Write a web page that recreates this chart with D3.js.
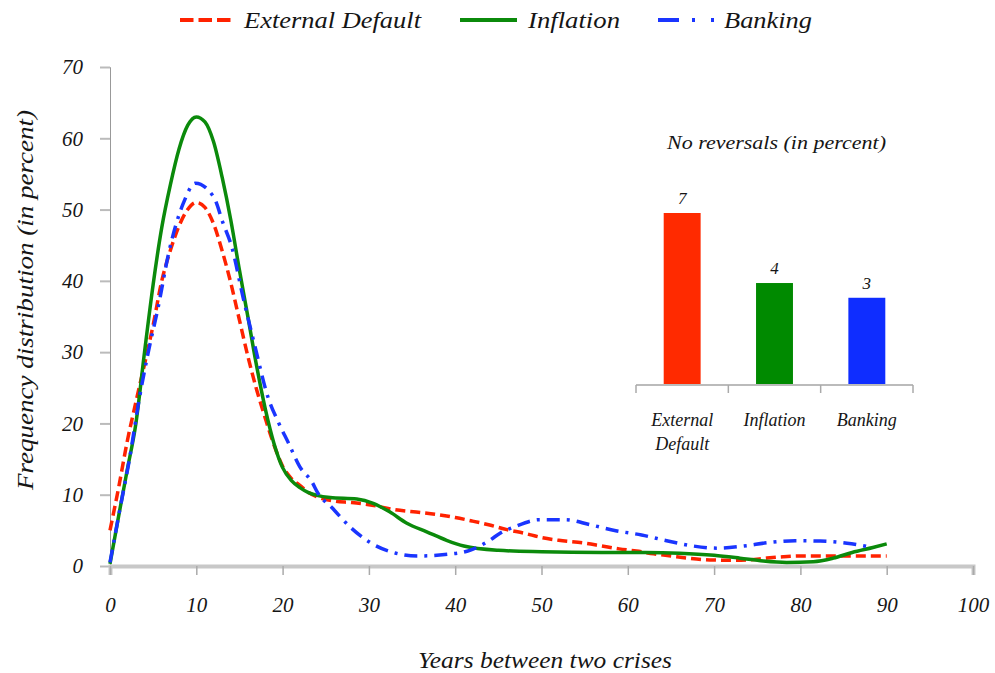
<!DOCTYPE html>
<html>
<head>
<meta charset="utf-8">
<script src="https://cdn.jsdelivr.net/npm/d3@7/dist/d3.min.js"></script>
<style>
  html, body { margin: 0; padding: 0; background: #fff; }
  svg { display: block; }
</style>
</head>
<body>
<svg id="chart" width="995" height="673"></svg>
<script>
// ---------- data ----------
const xTicks = [0, 10, 20, 30, 40, 50, 60, 70, 80, 90, 100];
const yTicks = [0, 10, 20, 30, 40, 50, 60, 70];

const seriesNames = ["External Default", "Inflation", "Banking"];

// External Default: [years, percent]
const externalDefault = [
  [0,5],[1,11],[2,17.5],[3,23],[4,28.3],[5,33.8],[6,40],[7,44.3],[8,47.7],[9,50],[10,51],
  [11,50.3],[12,48],[13,44.2],[14,39.7],[15,34.5],[16,29.3],[17,24.7],[18,20.7],[19,17],
  [20,14],[21,12.3],[22,11.3],[23,10.3],[24,9.7],[26,9.1],[28,8.9],[30,8.6],[33,7.9],
  [36,7.5],[38,7.2],[40,6.8],[42,6.3],[44,5.75],[46,5.1],[48,4.6],[50,4.0],[52,3.6],
  [55,3.2],[57,2.8],[59,2.4],[61,2.1],[63,1.7],[65,1.4],[67,1.1],[69.5,0.85],[72,0.8],
  [74,0.85],[76,1.1],[78,1.3],[80,1.4],[85,1.4],[90,1.4]
];

// Inflation
const inflation = [
  [0,0.3],[1,7],[2,13.5],[3,20],[4,30],[5,39.5],[6,47.5],[7,53.5],[8,58.5],[9,61.8],[10,63],
  [11,62.3],[12,59.5],[13,54.5],[14,48.5],[15,41.5],[16,34.8],[17,28],[18,22],[19,17.2],
  [20,13.8],[21,12],[22,11],[23,10.3],[24,9.9],[25.5,9.6],[28.6,9.4],[30.5,8.8],[32.4,7.6],
  [34.4,6],[36.7,4.8],[39,3.6],[41,2.8],[45,2.2],[50,2.0],[57,1.9],[62,1.9],[66,1.8],
  [70,1.5],[73,1.1],[75.7,0.7],[78.4,0.5],[81.5,0.6],[83.8,1.1],[86,1.9],[88.4,2.6],[90,3.1]
];

// Banking
const banking = [
  [0,0.5],[1.2,8.3],[2.3,15.3],[3.3,22.8],[4.4,29.8],[5.6,36.4],[6.8,43.9],[8.5,50.9],
  [9.9,53.7],[12,51.8],[13.1,48.1],[14.1,44.8],[15.4,37.8],[16.8,30.8],[18.3,23.7],
  [19.5,20.2],[20.7,17.2],[22,13.9],[23.4,11.8],[24.1,10.2],[25.7,8.2],[27.8,5.5],[30,3.4],
  [32.8,1.9],[35.7,1.4],[38.8,1.6],[41.7,2.2],[44,3.6],[45.2,4.6],[46.9,5.5],[49.8,6.5],
  [52.8,6.5],[55.6,5.8],[58.6,4.95],[61.6,4.35],[64.5,3.55],[67.6,2.8],[70.4,2.5],
  [73.4,2.8],[76.4,3.3],[79.4,3.55],[82.3,3.5],[85.4,3.2],[88.3,2.6]
];

// Inset: No reversals (in percent)
const insetCategories = [["External", "Default"], ["Inflation"], ["Banking"]];
const insetValues = [7, 4.15, 3.55];
const insetLabels = ["7", "4", "3"];

// ---------- styles ----------
const FONT = "Liberation Serif";
const colors = ["#ff2200", "#0b8a0b", "#1a35ff"];
const barColors = ["#ff2a00", "#008a00", "#0f2dff"];
const dashes = ["10,5", null, "13,7,3,7"];

const svg = d3.select("#chart");

function styleText(sel, size, len) {
  sel.style("font-family", FONT).style("font-style", "italic")
     .style("font-size", size + "px").style("fill", "#151515");
  if (len) sel.attr("textLength", len).attr("lengthAdjust", "spacingAndGlyphs");
  return sel;
}

// ---------- main scales ----------
const x = d3.scaleLinear().domain([0, 100]).range([110, 973]);
const y = d3.scaleLinear().domain([0, 70]).range([566, 67]);

// y axis
const yAxis = svg.append("g").attr("transform", `translate(${x(0)},0)`)
  .call(d3.axisLeft(y).tickValues(yTicks).tickSize(10).tickPadding(17).tickFormat(d3.format("d")));
yAxis.select(".domain").attr("stroke", "#999").attr("stroke-width", 1);
yAxis.selectAll(".tick line").attr("stroke", "#bbb").attr("stroke-width", 2);
styleText(yAxis.selectAll(".tick text"), 21);

// x axis
const xAxis = svg.append("g").attr("transform", `translate(0,${y(0)})`)
  .call(d3.axisBottom(x).tickValues(xTicks).tickSize(9).tickPadding(22).tickFormat(d3.format("d")));
xAxis.select(".domain").attr("stroke", "#c8c8c8").attr("stroke-width", 4);
xAxis.selectAll(".tick line").attr("stroke", "#aaa").attr("stroke-width", 1.5);
styleText(xAxis.selectAll(".tick text"), 21);

// axis titles
styleText(svg.append("text").attr("x", 418).attr("y", 668)
  .text("Years between two crises"), 24, 254);
styleText(svg.append("text").attr("transform", `translate(33,490) rotate(-90)`)
  .text("Frequency distribution (in percent)"), 23, 380);

// lines
const line = d3.line().x(d => x(d[0])).y(d => y(d[1])).curve(d3.curveMonotoneX);
const allSeries = [externalDefault, inflation, banking];
allSeries.forEach((s, i) => {
  svg.append("path").datum(s).attr("d", line)
    .attr("fill", "none").attr("stroke", colors[i]).attr("stroke-width", 3.5)
    .attr("stroke-dasharray", dashes[i]);
});

// legend
const legendX = [180, 460, 658];
const legendW = [51, 57, 58];
const legendDash = ["13.5,5", null, "21,13,3,16,3"];
const legendTextX = [244, 528, 724];
const legendLen = [177, 92, 88];
const legend = svg.append("g");
seriesNames.forEach((name, i) => {
  legend.append("line").attr("x1", legendX[i]).attr("x2", legendX[i] + legendW[i])
    .attr("y1", 20).attr("y2", 20)
    .attr("stroke", colors[i]).attr("stroke-width", 4)
    .attr("stroke-dasharray", legendDash[i]);
  styleText(legend.append("text").attr("x", legendTextX[i]).attr("y", 28).text(name), 24, legendLen[i]);
});

// ---------- inset ----------
const bx = d3.scaleBand().domain(d3.range(insetValues.length)).range([636, 913])
  .paddingInner(0.6).paddingOuter(0.3);
const by = d3.scaleLinear().domain([0, 7]).range([385, 213]);

styleText(svg.append("text").attr("x", 667).attr("y", 149)
  .text("No reversals (in percent)"), 19, 219);

svg.selectAll(".bar").data(insetValues).join("rect")
  .attr("x", (d, i) => bx(i)).attr("width", bx.bandwidth())
  .attr("y", d => by(d)).attr("height", d => by(0) - by(d))
  .attr("fill", (d, i) => barColors[i]);

styleText(svg.selectAll(".vlab").data(insetValues).join("text")
  .attr("x", (d, i) => bx(i) + bx.bandwidth() / 2).attr("y", d => by(d) - 9)
  .attr("text-anchor", "middle")
  .text((d, i) => insetLabels[i]), 17);

// inset axis
const step = bx.step();
const insetAxis = svg.append("g");
insetAxis.append("line").attr("x1", 636).attr("x2", 913).attr("y1", by(0)).attr("y2", by(0))
  .attr("stroke", "#bbb").attr("stroke-width", 2);
const boundaries = d3.range(insetValues.length + 1).map(i => i === 0 ? 636 : (i === insetValues.length ? 913 : bx(i) - (step - bx.bandwidth()) / 2));
insetAxis.selectAll("line.t").data(boundaries).join("line").attr("class", "t")
  .attr("x1", d => d).attr("x2", d => d).attr("y1", by(0)).attr("y2", by(0) + 8)
  .attr("stroke", "#aaa").attr("stroke-width", 1.5);

insetCategories.forEach((lines, i) => {
  const t = styleText(svg.append("text").attr("text-anchor", "middle"), 18);
  lines.forEach((l, j) => {
    t.append("tspan").attr("x", bx(i) + bx.bandwidth() / 2).attr("y", 426 + j * 24).text(l);
  });
});
</script>
</body>
</html>
